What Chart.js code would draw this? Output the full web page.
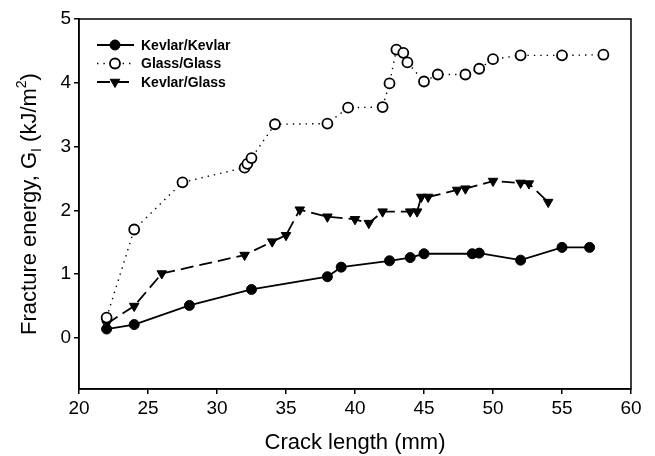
<!DOCTYPE html>
<html>
<head>
<meta charset="utf-8">
<script src="https://cdn.jsdelivr.net/npm/chart.js@4.4.1/dist/chart.umd.min.js"></script>
<style>
  html, body { margin: 0; padding: 0; background: #fff; }
  #contenedor { width: 655px; height: 456px; }
</style>
</head>
<body>
<div id="contenedor"><canvas id="graficaFractura"></canvas></div>
<script>
// Longitud de grieta (mm) y energía de fractura G_I (kJ/m2) por laminado
var kevlarKevlarX = [22, 24, 28, 32.5, 38, 39, 42.5, 44, 45, 48.5, 49, 52, 55, 57];
var kevlarKevlarY = [0.14, 0.21, 0.51, 0.76, 0.96, 1.11, 1.21, 1.26, 1.32, 1.32, 1.33, 1.22, 1.42, 1.42];

var glassGlassX = [22, 24, 27.5, 32, 32.2, 32.5, 34.2, 38, 39.5, 42, 42.5, 43, 43.5, 43.8, 45, 46, 48, 49, 50, 52, 55, 58];
var glassGlassY = [0.32, 1.70, 2.44, 2.67, 2.73, 2.82, 3.35, 3.36, 3.61, 3.62, 3.99, 4.52, 4.47, 4.32, 4.02, 4.13, 4.13, 4.22, 4.37, 4.43, 4.43, 4.44];

var kevlarGlassX = [22, 24, 26, 32, 34, 35, 36, 38, 40, 41, 42, 44, 44.5, 44.8, 45.3, 47.4, 48, 50, 52, 52.6, 54];
var kevlarGlassY = [0.22, 0.5, 1.01, 1.30, 1.51, 1.61, 2.01, 1.90, 1.86, 1.80, 1.98, 1.98, 1.98, 2.21, 2.21, 2.32, 2.34, 2.46, 2.43, 2.42, 2.13];

var etiquetas = ['Kevlar/Kevlar', 'Glass/Glass', 'Kevlar/Glass'];
var xTicks = [20, 25, 30, 35, 40, 45, 50, 55, 60];
var yTicks = [0, 1, 2, 3, 4, 5];

var fuente = '"Liberation Sans", Arial, sans-serif';

function puntos(xs, ys) {
    return xs.map(function(x, i) { return { x: x, y: ys[i] }; });
}

// Leyenda dibujada a mano: muestra de línea + marcador + texto
var leyendaPlugin = {
    id: 'leyendaManual',
    afterDraw: function(chart) {
        var ctx = chart.ctx;
        chart.data.datasets.forEach(function(ds, i) {
            var y = 45 + i * 18.5;
            ctx.save();
            ctx.strokeStyle = '#000';
            ctx.lineWidth = ds.borderWidth;
            ctx.setLineDash(ds.borderDash || []);
            ctx.beginPath();
            ctx.moveTo(97, y);
            ctx.lineTo(134, y);
            ctx.stroke();
            ctx.setLineDash([]);
            dibujarMarcador(ctx, ds, 115, y);
            ctx.fillStyle = '#000';
            ctx.font = 'bold 14px ' + fuente;
            ctx.textAlign = 'left';
            ctx.textBaseline = 'middle';
            ctx.fillText(ds.label, 141, y + 1);
            ctx.restore();
        });
    }
};

function dibujarMarcador(ctx, ds, x, y) {
    var r = ds.pointRadius;
    ctx.beginPath();
    if (ds.pointStyle === 'triangle') {
        // triángulo invertido
        var h = Math.sin(Math.PI / 3) * r;
        ctx.moveTo(x - h, y - r / 2);
        ctx.lineTo(x + h, y - r / 2);
        ctx.lineTo(x, y + r);
        ctx.closePath();
    } else {
        ctx.arc(x, y, r, 0, Math.PI * 2);
    }
    ctx.fillStyle = ds.pointBackgroundColor;
    ctx.fill();
    ctx.lineWidth = ds.pointBorderWidth;
    ctx.strokeStyle = ds.pointBorderColor;
    ctx.stroke();
}

// Marco completo y título del eje Y con subíndice y superíndice
var marcoPlugin = {
    id: 'marcoYTitulo',
    afterDraw: function(chart) {
        var ctx = chart.ctx;
        var a = chart.chartArea;
        ctx.save();
        ctx.strokeStyle = '#000';
        ctx.lineWidth = 1.5;
        ctx.strokeRect(a.left, a.top, a.right - a.left, a.bottom - a.top);

        var partes = [
            { t: 'Fracture energy, G', f: '22px ' + fuente, dy: 0 },
            { t: 'I', f: '14px ' + fuente, dy: 5 },
            { t: ' (kJ/m', f: '22px ' + fuente, dy: 0 },
            { t: '2', f: '14px ' + fuente, dy: -10 },
            { t: ')', f: '22px ' + fuente, dy: 0 }
        ];
        var total = 0;
        partes.forEach(function(p) { ctx.font = p.f; p.w = ctx.measureText(p.t).width; total += p.w; });
        ctx.translate(36, (a.top + a.bottom) / 2);
        ctx.rotate(-Math.PI / 2);
        ctx.fillStyle = '#000';
        ctx.textBaseline = 'alphabetic';
        ctx.textAlign = 'left';
        var x = -total / 2;
        partes.forEach(function(p) {
            ctx.font = p.f;
            ctx.fillText(p.t, x, p.dy);
            x += p.w;
        });
        ctx.restore();
    }
};

var ctx = document.getElementById('graficaFractura').getContext('2d');
new Chart(ctx, {
    type: 'scatter',
    data: {
        datasets: [{
            label: etiquetas[0],
            data: puntos(kevlarKevlarX, kevlarKevlarY),
            showLine: true,
            borderColor: '#000',
            borderWidth: 1.8,
            pointStyle: 'circle',
            pointRadius: 5,
            pointBackgroundColor: '#000',
            pointBorderColor: '#000',
            pointBorderWidth: 1
        }, {
            label: etiquetas[1],
            data: puntos(glassGlassX, glassGlassY),
            showLine: true,
            borderColor: '#000',
            borderWidth: 1.4,
            borderDash: [1.4, 5],
            pointStyle: 'circle',
            pointRadius: 5,
            pointBackgroundColor: '#fff',
            pointBorderColor: '#000',
            pointBorderWidth: 1.8
        }, {
            label: etiquetas[2],
            data: puntos(kevlarGlassX, kevlarGlassY),
            showLine: true,
            borderColor: '#000',
            borderWidth: 1.8,
            borderDash: [13, 6],
            pointStyle: 'triangle',
            pointRotation: 180,
            pointRadius: 5.5,
            pointBackgroundColor: '#000',
            pointBorderColor: '#000',
            pointBorderWidth: 1
        }]
    },
    options: {
        responsive: true,
        maintainAspectRatio: false,
        animation: false,
        layout: { padding: { top: 19, right: 24, left: 0, bottom: 0 } },
        plugins: {
            legend: { display: false },
            tooltip: { enabled: false }
        },
        scales: {
            x: {
                type: 'linear',
                min: 20,
                max: 60,
                afterBuildTicks: function(scale) {
                    scale.ticks = xTicks.map(function(v) { return { value: v }; });
                },
                afterFit: function(scale) { scale.height = 67; },
                grid: { drawOnChartArea: false, drawTicks: true, tickLength: 5, color: '#000', lineWidth: 1.5 },
                border: { color: '#000', width: 1.5 },
                ticks: { color: '#000', font: { family: fuente, size: 19 }, padding: 3, maxRotation: 0 },
                title: {
                    display: true,
                    text: 'Crack length (mm)',
                    color: '#000',
                    font: { family: fuente, size: 22 },
                    padding: { top: 0, bottom: 0 }
                }
            },
            y: {
                type: 'linear',
                min: -0.8,
                max: 5,
                afterBuildTicks: function(scale) {
                    scale.ticks = yTicks.map(function(v) { return { value: v }; });
                },
                afterFit: function(scale) { scale.width = 79; },
                grid: { drawOnChartArea: false, drawTicks: true, tickLength: 5, color: '#000', lineWidth: 1.5 },
                border: { color: '#000', width: 1.5 },
                ticks: { color: '#000', font: { family: fuente, size: 19 }, padding: 3 }
            }
        }
    },
    plugins: [leyendaPlugin, marcoPlugin]
});
</script>
</body>
</html>
